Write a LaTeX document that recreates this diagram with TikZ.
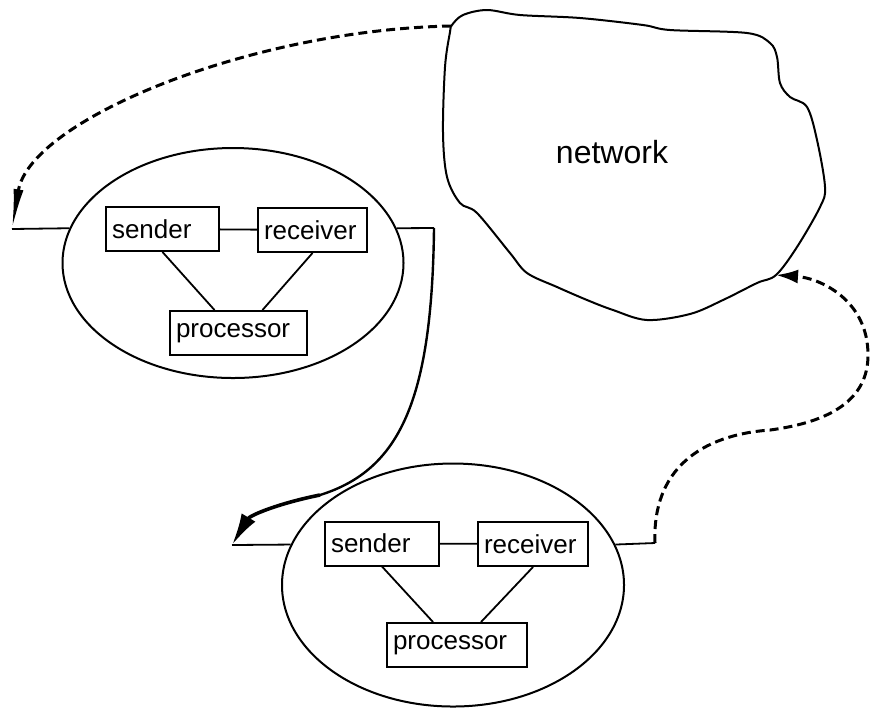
\documentclass[tikz,border=0pt]{standalone}
\usepackage{fontspec}
\setmainfont{Liberation Sans}
\usetikzlibrary{shapes.geometric, arrows.meta}

\tikzset{
  unit/.style={draw, line width=1pt, inner xsep=3pt, inner ysep=0pt,
    minimum height=22pt, align=left, font=\fontsize{13}{15}\selectfont},
  host/.style={draw, ellipse, line width=1pt, inner sep=0pt},
  wire/.style={line width=0.9pt},
  netlink/.style={line width=1.5pt, dash pattern=on 4.5pt off 2.5pt},
}

\begin{document}
\begin{tikzpicture}[x=0.5pt, y=-0.5pt]
    \useasboundingbox (0,0) rectangle (870,709);

    % Mạng (đám mây)
    \draw[line width=1pt] plot[smooth cycle, tension=0.55] coordinates {
        (452,25) (463,15) (487,10) (520,15) (580,18) (643,25) (670,30)
        (747,33) (770,43) (777,57) (780,83) (790,97) (807,107) (817,140)
        (825,187) (820,207) (797,247) (776,275) (757,283) (723,300)
        (690,314) (647,320) (613,310) (587,300) (557,287) (527,273)
        (510,253) (477,213) (460,203) (447,177) (443,133) (445,67) (450,32)};
    \node[font=\fontsize{16}{19}\selectfont] (net) at (612,152) {network};
    \coordinate (netout) at (451,26);
    \coordinate (netin) at (776,275);

    % Nút trên
    \node[host, minimum width=170.5pt, minimum height=115pt] (hostA) at (233,263) {};
    \node[unit, text width=50.5pt] (sendA) at (162.5,229) {sender};
    \node[unit, text width=48.5pt] (recvA) at (312.5,230) {receiver};
    \node[unit, text width=62.5pt] (procA) at (238.5,333) {processor};
    \draw[wire] (sendA) -- (recvA);
    \draw[wire] (sendA.south) -- ([xshift=-12pt]procA.north);
    \draw[wire] (recvA.south) -- ([xshift=12pt]procA.north);
    \coordinate (inA) at (12,229);
    \coordinate (outA) at (434,228);
    \draw[wire] (hostA.168) -- (inA);
    \draw[wire] (hostA.12) -- (outA);

    % Nút dưới
    \node[host, minimum width=171pt, minimum height=121.5pt] (hostB) at (453,585) {};
    \node[unit, text width=51pt] (sendB) at (382,543.5) {sender};
    \node[unit, text width=49pt] (recvB) at (533,544) {receiver};
    \node[unit, text width=64pt] (procB) at (457,645) {processor};
    \draw[wire] (sendB) -- (recvB);
    \draw[wire] (sendB.south) -- ([xshift=-12pt]procB.north);
    \draw[wire] (recvB.south) -- ([xshift=12pt]procB.north);
    \coordinate (inB) at (232,545);
    \coordinate (outB) at (655,543);
    \draw[wire] (hostB.166) -- (inB);
    \draw[wire] (hostB.14) -- (outB);

    % Các đường truyền
    \draw[netlink, -{Latex[length=20pt, width=5pt]}]
        (netout) .. controls (250,30) and (30,120) .. (inA);
    \draw[line width=1.2pt] (outA) .. controls (432,400) and (400,470) .. (320,495);
    \draw[line width=1.8pt, -{Latex[length=16pt, width=8pt]}]
        (320,495) .. controls (280,503) and (250,515) .. (inB);
    \draw[netlink, -{Latex[length=11pt, width=7pt]}]
        (outB) .. controls (652,470) and (700,435) .. (770,430)
        .. controls (830,422) and (868,400) .. (868,355)
        .. controls (868,300) and (820,278) .. (netin);
\end{tikzpicture}
\end{document}
